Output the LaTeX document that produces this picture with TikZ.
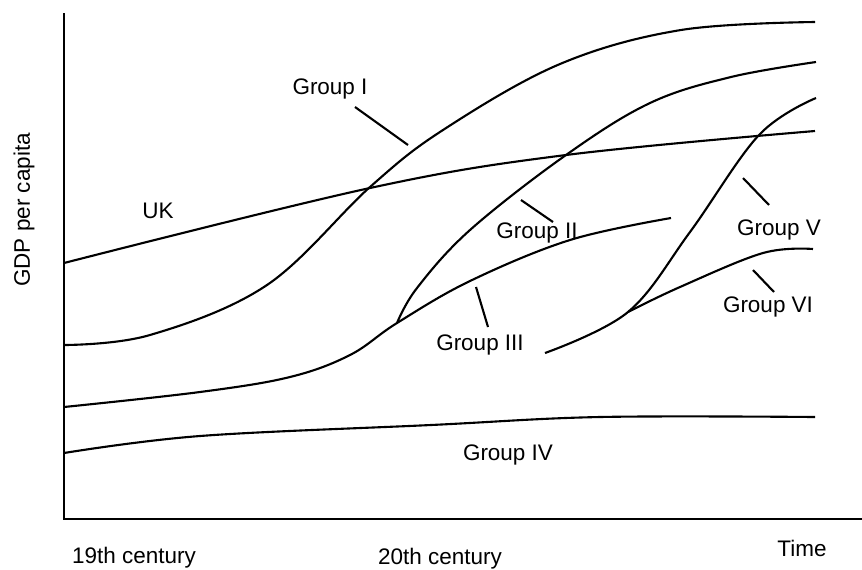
\documentclass[tikz,border=0pt]{standalone}
\usepackage{fontspec}
\setmainfont{Liberation Sans}
\usetikzlibrary{calc}

\begin{document}
\begin{tikzpicture}[
    x=0.02cm,
    y=-0.02cm,
    axis/.style={line width=1.2pt},
    curve/.style={line width=1.2pt, smooth, tension=0.6},
    leader/.style={line width=1.2pt},
    lab/.style={
        font=\fontsize{12.8}{15}\selectfont,
        inner sep=0pt
    }
]
\useasboundingbox (0,0) rectangle (862,569);

% ---------------- Axes ----------------
\coordinate (ytop)   at (64, 13);
\coordinate (origin) at (64, 519);
\coordinate (xend)   at (862, 519);
\draw[axis] (ytop) -- (origin) -- (xend);

\node[lab, rotate=90] (ylab)  at (24, 210)  {GDP per capita};
\node[lab]            (c19)   at (134, 558) {19th century};
\node[lab]            (c20)   at (440, 559) {20th century};
\node[lab]            (time)  at (802, 548) {Time};

% ---------------- Curves ----------------
\coordinate (split23) at (397, 323);
\coordinate (split56) at (628, 312);

% UK
\draw[curve] plot coordinates {(64,263) (370,188) (566,155) (815,131)};
% Group I
\draw[curve] plot coordinates {(64,345) (150,335) (267,285) (370,187)
    (443,130) (560,64) (681,30) (815,22)};
% Group III
\draw[curve] plot coordinates {(64,407) (200,392) (290,377) (350,355)
    (split23) (470,281) (570,240) (671,218)};
% Group II
\draw[curve] plot coordinates {(split23) (417,288) (470,230) (566,155)
    (650,103) (731,77) (816,62)};
% Group IV
\draw[curve] plot coordinates {(64,453) (200,436) (431,425) (600,417)
    (815,417)};
% Group V
\draw[curve] plot coordinates {(545,353) (split56) (690,232) (759,135)
    (816,98)};
% Group VI
\draw[curve] plot coordinates {(split56) (680,287) (763,253) (813,249)};

% ---------------- Labels ----------------
\node[lab] (uk)  at (158, 211) {UK};
\node[lab] (g1)  at (330, 89)  {Group I};
\node[lab] (g2)  at (537, 233) {Group II};
\node[lab] (g3)  at (480, 345) {Group III};
\node[lab] (g4)  at (508, 455) {Group IV};
\node[lab] (g5)  at (779, 230) {Group V};
\node[lab] (g6)  at (768, 307) {Group VI};

% ---------------- Leaders ----------------
\coordinate (g1a) at (355, 107);  \coordinate (g1b) at (408, 145);
\coordinate (g2a) at (521, 200);  \coordinate (g2b) at (553, 222);
\coordinate (g3a) at (476, 287);  \coordinate (g3b) at (488, 327);
\coordinate (g5a) at (743, 178);  \coordinate (g5b) at (769, 205);
\coordinate (g6a) at (753, 270);  \coordinate (g6b) at (774, 292);

\draw[leader] (g1a) -- (g1b);
\draw[leader] (g2a) -- (g2b);
\draw[leader] (g3a) -- (g3b);
\draw[leader] (g5a) -- (g5b);
\draw[leader] (g6a) -- (g6b);

\end{tikzpicture}
\end{document}
